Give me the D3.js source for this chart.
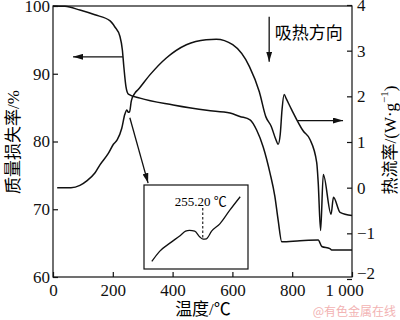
<!DOCTYPE html>
<html>
<head>
<meta charset="utf-8">
<script src="https://cdn.jsdelivr.net/npm/d3@7/dist/d3.min.js"></script>
<style>
body{margin:0;background:#fff;}
</style>
</head>
<body>
<svg id="chart" width="400" height="320"></svg>
<script>
/************************************ Data *******************************/
// TG curve : temperature (°C) -> mass loss (%)
var tgTemp = [0, 40, 90, 140, 191, 207, 224, 232, 237, 244, 252, 291, 402, 514, 592, 625, 659, 681, 703, 726, 742, 753, 765, 826, 887, 899, 926, 932, 1000];
var tgMass = [100, 99.95, 99.4, 98.7, 97.8, 96.9, 95.5, 93.5, 91.0, 88.1, 87.0, 86.4, 85.4, 84.6, 84.2, 83.7, 83.2, 81.7, 79.2, 75.3, 71.9, 68.4, 65.2, 65.35, 65.45, 64.5, 64.2, 64.0, 64.0];

// DSC curve : temperature (°C) -> heat flow (W/g)
var dscTemp = [14, 60, 90, 113, 140, 157, 185, 202, 215, 230, 240, 247, 252, 256, 262, 274, 285, 324, 379, 446, 512, 546, 601, 657, 690, 712, 730, 745, 753, 760, 766, 773, 780, 798, 837, 859, 882, 887, 895, 904, 930, 938, 960, 1000];
var dscFlow = [0, 0, 0.05, 0.15, 0.32, 0.5, 0.75, 0.95, 1.05, 1.3, 1.6, 1.7, 1.65, 1.66, 1.9, 2.07, 2.15, 2.47, 2.84, 3.13, 3.24, 3.25, 3.13, 2.65, 2.1, 1.55, 1.34, 1.06, 0.95, 1.17, 1.71, 2.04, 1.95, 1.71, 1.24, 1.06, 0.55, 0.11, -0.94, 0.29, -0.58, -0.21, -0.54, -0.61];

// inset : zoom on the DSC around 255.20 °C
var insetTemp = [216, 222, 231, 238, 242, 245, 249, 253, 255.5, 258, 262, 268.5, 276, 284];
var insetFlow = [1.09, 1.21, 1.32, 1.40, 1.45, 1.46, 1.45, 1.38, 1.355, 1.36, 1.45, 1.54, 1.70, 1.86];
var insetPeak = 255.2;

// ticks
var xTicks = [0, 200, 400, 600, 800, 1000];
var massTicks = [60, 70, 80, 90, 100];
var flowTicks = [-2, -1, 0, 1, 2, 3, 4];

/************************************ Scales *******************************/
var FONT = "'Liberation Serif', 'Times New Roman', 'Noto Sans CJK SC', serif";
var svg = d3.select("#chart").attr("font-family", FONT);
var x = d3.scaleLinear().domain([0, 1000]).range([53, 352]);
var yL = d3.scaleLinear().domain([60, 100]).range([277, 6]);
var yR = d3.scaleLinear().domain([-2, 4]).range([279, 5]);

var fs = 17;

/************************************ Axes *******************************/
svg.append("rect")
	.attr("x", 53).attr("y", 6)
	.attr("width", 299).attr("height", 271)
	.attr("fill", "none").attr("stroke", "#111").attr("stroke-width", 1.2);

var gx = svg.append("g").attr("transform", "translate(0,277)")
	.call(d3.axisBottom(x).tickValues(xTicks).tickSize(-5).tickPadding(7)
		.tickFormat(function(d){ return d === 1000 ? "1 000" : d; }));
gx.selectAll("text").attr("dx", function(d){ return d === 1000 ? -8 : 0; });

var gl = svg.append("g").attr("transform", "translate(53,0)")
	.call(d3.axisLeft(yL).tickValues(massTicks).tickSize(-5).tickPadding(3));

var gr = svg.append("g").attr("transform", "translate(352,0)")
	.call(d3.axisRight(yR).tickValues(flowTicks).tickSize(-5).tickPadding(5)
		.tickFormat(d3.format("d")));
// bottom label sits a bit higher, like the original
gr.selectAll("text").attr("y", function(d){ return d === -2 ? -6 : 0; });

[gx, gl, gr].forEach(function(g){
	g.attr("font-family", FONT).attr("font-size", fs);
	g.select(".domain").remove();
	g.selectAll("line").attr("stroke", "#111").attr("stroke-width", 1.2);
	g.selectAll("text").attr("fill", "#111");
});

// axis titles
svg.append("text").attr("x", 203).attr("y", 315).attr("text-anchor", "middle")
	.attr("font-size", fs).text("温度/℃");
svg.append("text").attr("transform", "translate(13,142) rotate(-90)")
	.attr("text-anchor", "middle").attr("dominant-baseline", "central")
	.attr("font-size", fs).text("质量损失率/%");
var rt = svg.append("text").attr("transform", "translate(390,140) rotate(-90)")
	.attr("text-anchor", "middle").attr("dominant-baseline", "central")
	.attr("font-size", fs);
rt.append("tspan").text("热流率/(W·g");
rt.append("tspan").attr("font-size", 11).attr("dy", -6).text("−1");
rt.append("tspan").attr("dy", 6).text(")");

/************************************ Curves *******************************/
var tgLine = d3.line().curve(d3.curveMonotoneX)
	.x(function(d, i){ return x(tgTemp[i]); })
	.y(function(d){ return yL(d); });
svg.append("path").datum(tgMass).attr("d", tgLine)
	.attr("fill", "none").attr("stroke", "#111").attr("stroke-width", 1.5);

var dscLine = d3.line().curve(d3.curveMonotoneX)
	.x(function(d, i){ return x(dscTemp[i]); })
	.y(function(d){ return yR(d); });
svg.append("path").datum(dscFlow).attr("d", dscLine)
	.attr("fill", "none").attr("stroke", "#111").attr("stroke-width", 1.5);

/************************************ Arrows *******************************/
svg.append("defs").append("marker")
	.attr("id", "head").attr("viewBox", "0 0 10 6")
	.attr("refX", 10).attr("refY", 3)
	.attr("markerWidth", 10).attr("markerHeight", 6)
	.attr("markerUnits", "userSpaceOnUse").attr("orient", "auto")
	.append("path").attr("d", "M0,0 L10,3 L0,6 Z").attr("fill", "#111");

// [x1, y1, x2, y2, axis]  in data units
var arrows = [
	[234, 92.5, 67, 92.5, "L"],
	[257, 1.53, 318, 0.1, "R"],
	[723, 3.74, 723, 2.76, "R"],
	[819, 1.47, 970, 1.47, "R"]
];
arrows.forEach(function(a){
	var ys = a[4] === "L" ? yL : yR;
	svg.append("line")
		.attr("x1", x(a[0])).attr("y1", ys(a[1]))
		.attr("x2", x(a[2])).attr("y2", ys(a[3]))
		.attr("stroke", "#111").attr("stroke-width", 1.3)
		.attr("marker-end", "url(#head)");
});

svg.append("text").attr("x", x(742)).attr("y", yR(3.26))
	.attr("font-size", fs).text("吸热方向");

/************************************ Inset *******************************/
var ix = d3.scaleLinear().domain([210, 290]).range([144, 248]);
var iy = d3.scaleLinear().domain([1, 2]).range([269, 185]);

svg.append("rect").attr("x", 144).attr("y", 185).attr("width", 104).attr("height", 84)
	.attr("fill", "#fff").attr("stroke", "#111").attr("stroke-width", 1.2);

var insetLine = d3.line().curve(d3.curveMonotoneX)
	.x(function(d, i){ return ix(insetTemp[i]); })
	.y(function(d){ return iy(d); });
svg.append("path").datum(insetFlow).attr("d", insetLine)
	.attr("fill", "none").attr("stroke", "#111").attr("stroke-width", 1.3);

svg.append("line")
	.attr("x1", ix(insetPeak)).attr("x2", ix(insetPeak))
	.attr("y1", 208).attr("y2", iy(1.355))
	.attr("stroke", "#111").attr("stroke-width", 1.1).attr("stroke-dasharray", "2.5,2");

svg.append("text").attr("x", ix(insetPeak) - 2).attr("y", 206)
	.attr("text-anchor", "middle").attr("font-size", 13)
	.text(insetPeak.toFixed(2) + " ℃");

// watermark
svg.append("text").attr("x", 396).attr("y", 316).attr("text-anchor", "end")
	.attr("font-size", 12).attr("fill", "#f2b3b3")
	.attr("font-family", "'Noto Sans CJK SC'").text("@有色金属在线");
</script>
</body>
</html>
